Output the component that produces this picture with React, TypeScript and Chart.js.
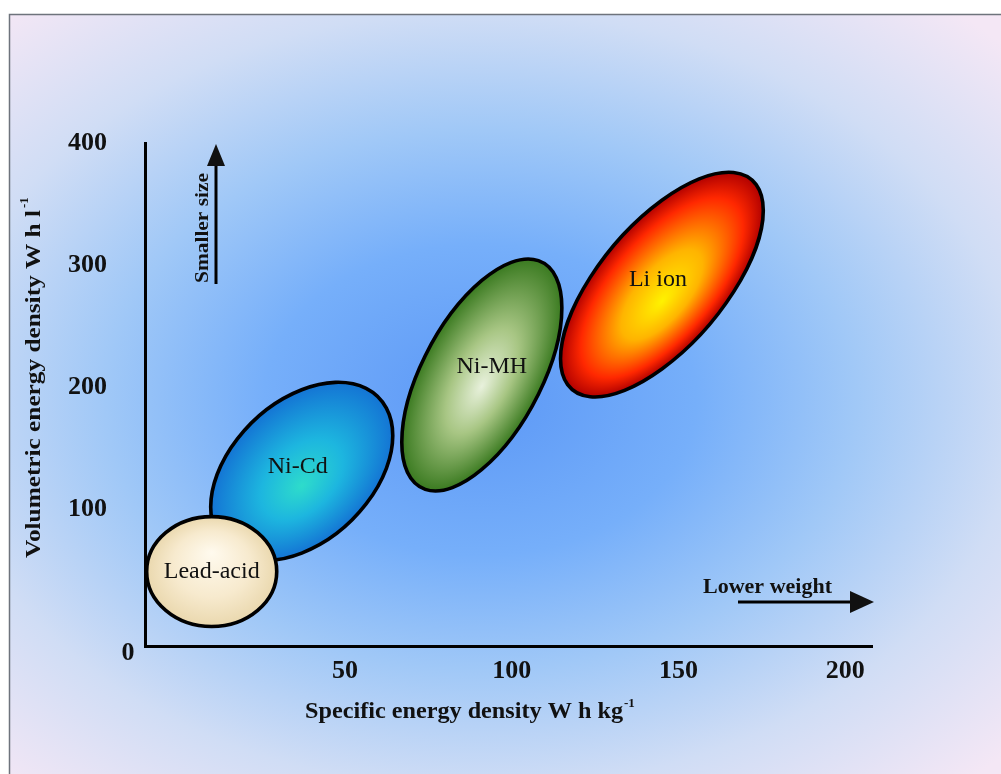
import React, { useEffect, useRef } from 'react';
import { Chart, registerables } from 'chart.js';

Chart.register(...registerables);

// ---------------- data ----------------
const batteryTypes = ['Lead-acid', 'Ni-Cd', 'Ni-MH', 'Li ion'];
// centre and half-range of each technology region
const specificEnergyCentre = [10, 37, 91, 145]; // W h kg-1
const specificEnergyHalfRange = [19.5, 27.3, 24, 30.4];
const volumetricEnergyCentre = [49, 131, 210, 284]; // W h l-1
const volumetricEnergyHalfRange = [45, 73, 95, 92];
const rangeCorrelation = [0, 0.4, 0.58, 0.66];
const xTickValues = [50, 100, 150, 200];
const yTickValues = [100, 200, 300, 400];
const xAxisRange = [-10, 208];
const yAxisRange = [-12, 400];
const originLabel = '0';
const xTitle = 'Specific energy density W h kg';
const yTitle = 'Volumetric energy density W h l';
const unitPower = '-1';
const upNote = 'Smaller size';
const rightNote = 'Lower weight';

// ---------------- styles ----------------
const fillStops: [number, string][][] = [
  [[0, '#FFFAEE'], [0.6, '#F7EACE'], [1, '#EAD8AE']],
  [[0, '#2EDCCB'], [0.45, '#1DB6DF'], [1, '#1474D4']],
  [[0, '#E8F1DC'], [0.45, '#A8C684'], [1, '#3A7A20']],
  [[0, '#FFF200'], [0.4, '#FFB400'], [0.8, '#FF2800'], [1, '#B00000']],
];
const focusShift = [0.35, -0.18, -0.12, -0.2];
const labelNudge = [[0, 0], [-4, -5], [10, -8], [-4, -5]];
const serif = '"Liberation Serif", "Times New Roman", serif';
const ink = '#111111';

function fitText(ctx: CanvasRenderingContext2D, text: string, x: number, y: number, font: string, width: number) {
  ctx.font = font;
  const w = ctx.measureText(text).width;
  ctx.save();
  ctx.translate(x, y);
  ctx.scale(width / w, 1);
  ctx.fillText(text, 0, 0);
  ctx.restore();
}

const backgroundPlugin = {
  id: 'bg',
  beforeDraw(chart: any) {
    const ctx: CanvasRenderingContext2D = chart.ctx;
    const W = chart.width, H = chart.height;
    ctx.save();
    ctx.fillStyle = '#ffffff';
    ctx.fillRect(0, 0, W, H);
    ctx.beginPath();
    ctx.rect(9, 14, W - 9, H - 14);
    ctx.clip();
    ctx.translate(480, 400);
    ctx.scale(1, 0.72);
    const g = ctx.createRadialGradient(0, 0, 0, 0, 0, 720);
    g.addColorStop(0, 'rgb(92,152,246)');
    g.addColorStop(0.3, 'rgb(118,175,250)');
    g.addColorStop(0.52, 'rgb(160,200,247)');
    g.addColorStop(0.75, 'rgb(208,221,245)');
    g.addColorStop(1, 'rgb(244,231,245)');
    ctx.fillStyle = g;
    ctx.fillRect(-700, -800, 1400, 1600);
    ctx.restore();
    ctx.save();
    ctx.strokeStyle = '#6E737C';
    ctx.lineWidth = 1.5;
    ctx.beginPath();
    ctx.moveTo(9.5, H);
    ctx.lineTo(9.5, 14.5);
    ctx.lineTo(W, 14.5);
    ctx.stroke();
    ctx.restore();
  },
};

const ellipsePlugin = {
  id: 'ellipses',
  beforeDatasetsDraw(chart: any) {
    const ctx: CanvasRenderingContext2D = chart.ctx;
    const xs = chart.scales.x, ys = chart.scales.y;
    for (let i = batteryTypes.length - 1; i >= 0; i--) {
      const cx = xs.getPixelForValue(specificEnergyCentre[i]);
      const cy = ys.getPixelForValue(volumetricEnergyCentre[i]);
      const ax = xs.getPixelForValue(specificEnergyCentre[i] + specificEnergyHalfRange[i]) - cx;
      const ay = cy - ys.getPixelForValue(volumetricEnergyCentre[i] + volumetricEnergyHalfRange[i]);
      const r = rangeCorrelation[i];
      const s = Math.sqrt(1 - r * r);
      ctx.save();
      ctx.transform(ax, -ay * r, 0, -ay * s, cx, cy);
      ctx.beginPath();
      ctx.arc(0, 0, 1, 0, Math.PI * 2);
      const g = ctx.createRadialGradient(0, focusShift[i], 0, 0, 0, 1);
      fillStops[i].forEach(([o, c]) => g.addColorStop(o, c));
      ctx.fillStyle = g;
      ctx.fill();
      ctx.restore();
      ctx.save();
      ctx.lineWidth = 3.6;
      ctx.strokeStyle = '#000';
      ctx.stroke();
      ctx.fillStyle = ink;
      ctx.font = `24px ${serif}`;
      ctx.textAlign = 'center';
      ctx.textBaseline = 'middle';
      ctx.fillText(batteryTypes[i], cx + labelNudge[i][0], cy + labelNudge[i][1]);
      ctx.restore();
    }
  },
};

const notesPlugin = {
  id: 'notes',
  afterDraw(chart: any) {
    const ctx: CanvasRenderingContext2D = chart.ctx;
    const area = chart.chartArea;
    ctx.save();
    ctx.fillStyle = ink;
    ctx.strokeStyle = '#000';
    ctx.textAlign = 'left';
    ctx.textBaseline = 'alphabetic';

    // origin label
    ctx.font = `bold 26px ${serif}`;
    ctx.textAlign = 'center';
    ctx.fillText(originLabel, area.left - 17, area.bottom + 14);
    ctx.textAlign = 'left';

    // x title
    fitText(ctx, xTitle, 305, 718, `bold 23px ${serif}`, 318);
    ctx.font = `bold 13px ${serif}`;
    ctx.fillText(unitPower, 624, 707);

    // y title (rotated)
    ctx.save();
    ctx.translate(40, 558);
    ctx.rotate(-Math.PI / 2);
    fitText(ctx, yTitle, 0, 0, `bold 22px ${serif}`, 348);
    ctx.font = `bold 13px ${serif}`;
    ctx.fillText(unitPower, 350, -12);
    ctx.restore();

    // "Smaller size" with upward arrow
    ctx.save();
    ctx.translate(208, 283);
    ctx.rotate(-Math.PI / 2);
    fitText(ctx, upNote, 0, 0, `bold 19px ${serif}`, 110);
    ctx.restore();
    ctx.lineWidth = 3;
    ctx.beginPath();
    ctx.moveTo(216, 284);
    ctx.lineTo(216, 162);
    ctx.stroke();
    ctx.beginPath();
    ctx.moveTo(216, 144);
    ctx.lineTo(207, 166);
    ctx.lineTo(225, 166);
    ctx.closePath();
    ctx.fill();

    // "Lower weight" with right arrow
    fitText(ctx, rightNote, 703, 593, `bold 21px ${serif}`, 129);
    ctx.beginPath();
    ctx.moveTo(738, 602);
    ctx.lineTo(855, 602);
    ctx.stroke();
    ctx.beginPath();
    ctx.moveTo(874, 602);
    ctx.lineTo(850, 591);
    ctx.lineTo(850, 613);
    ctx.closePath();
    ctx.fill();
    ctx.restore();
  },
};

export default function App() {
  const ref = useRef<HTMLCanvasElement>(null);
  useEffect(() => {
    const canvas = ref.current;
    if (!canvas) return;
    const tickFont = { family: serif, size: 26, weight: 'bold' as const };
    const chart = new Chart(canvas, {
      type: 'scatter',
      data: {
        datasets: [
          {
            label: 'Battery regions',
            data: batteryTypes.map((_, i) => ({ x: specificEnergyCentre[i], y: volumetricEnergyCentre[i] })),
            pointRadius: 0,
            pointHoverRadius: 0,
          },
        ],
      },
      options: {
        responsive: false,
        animation: false,
        events: [],
        layout: { padding: { left: 45, right: 129, top: 143, bottom: 58 } },
        plugins: { legend: { display: false }, tooltip: { enabled: false } },
        scales: {
          x: {
            type: 'linear',
            min: xAxisRange[0],
            max: xAxisRange[1],
            grid: { display: false, drawTicks: false },
            border: { display: true, color: '#000', width: 3 },
            ticks: { font: tickFont, color: ink, padding: 10, autoSkip: false, maxRotation: 0 },
            afterBuildTicks: (s: any) => {
              s.ticks = xTickValues.map((v) => ({ value: v }));
            },
            afterFit: (s: any) => {
              s.height = 70;
            },
          },
          y: {
            type: 'linear',
            min: yAxisRange[0],
            max: yAxisRange[1],
            grid: { display: false, drawTicks: false },
            border: { display: true, color: '#000', width: 3 },
            ticks: { font: tickFont, color: ink, padding: 38, autoSkip: false },
            afterBuildTicks: (s: any) => {
              s.ticks = yTickValues.map((v) => ({ value: v }));
            },
            afterFit: (s: any) => {
              s.width = 100;
            },
          },
        },
      },
      plugins: [backgroundPlugin, ellipsePlugin, notesPlugin],
    });
    return () => chart.destroy();
  }, []);
  return (
    <canvas
      ref={ref}
      width={1001}
      height={774}
      style={{ position: 'absolute', left: 0, top: 0, width: 1001, height: 774 }}
    />
  );
}
